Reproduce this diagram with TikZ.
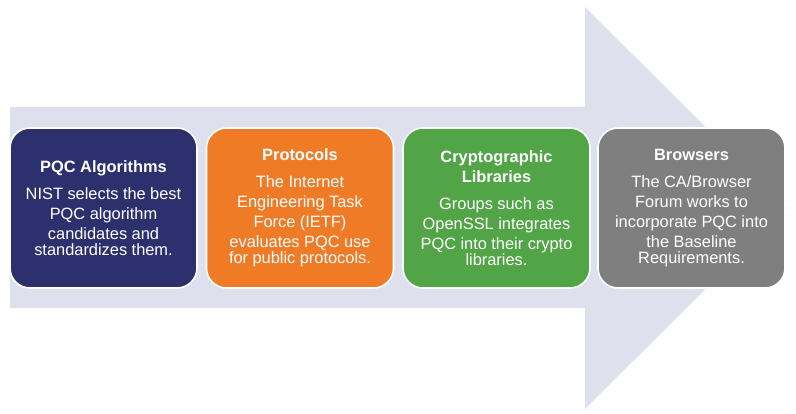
\documentclass[tikz,border=0pt]{standalone}
\usepackage{fontspec}
\setmainfont{Liberation Sans}
\definecolor{arrowc}{HTML}{DEE0ED}
\definecolor{navyc}{HTML}{2C316E}
\definecolor{orangec}{HTML}{F07B27}
\definecolor{greenc}{HTML}{52A546}
\definecolor{grayc}{HTML}{7F7F7F}
\newcommand{\ttl}{\fontsize{12.3}{15}\selectfont\bfseries}
\newcommand{\bdy}{\fontsize{12.3}{15}\selectfont\mdseries}
\tikzset{
  stagebox/.style={draw=white, line width=1.2pt, rounded corners=15pt,
    minimum width=140.25pt, minimum height=120pt, inner sep=0pt,
    text width=136pt, align=center, text=white},
}
\begin{document}
\begin{tikzpicture}[x=0.75pt,y=-0.75pt]
\useasboundingbox (0,0) rectangle (796,414);
\fill[arrowc] (10,107) -- (585,107) -- (585,7) -- (787,208) -- (585,409) -- (585,308) -- (10,308) -- cycle;
\node[stagebox, fill=navyc] (b1) at (103.5,208) {\ttl PQC Algorithms\\[5pt]\bdy NIST selects the best\\PQC algorithm\\candidates and\\standardizes them.};
\node[stagebox, fill=orangec] (b2) at (300,208) {\ttl Protocols\\[5pt]\bdy The Internet\\Engineering Task\\Force (IETF)\\evaluates PQC use\\for public protocols.};
\node[stagebox, fill=greenc] (b3) at (496.5,208) {\ttl Cryptographic\\Libraries\\[5pt]\bdy Groups such as\\OpenSSL integrates\\PQC into their crypto\\libraries.};
\node[stagebox, fill=grayc] (b4) at (691.5,208) {\ttl Browsers\\[5pt]\bdy The CA/Browser\\Forum works to\\incorporate PQC into\\the Baseline\\Requirements.};
\end{tikzpicture}
\end{document}
